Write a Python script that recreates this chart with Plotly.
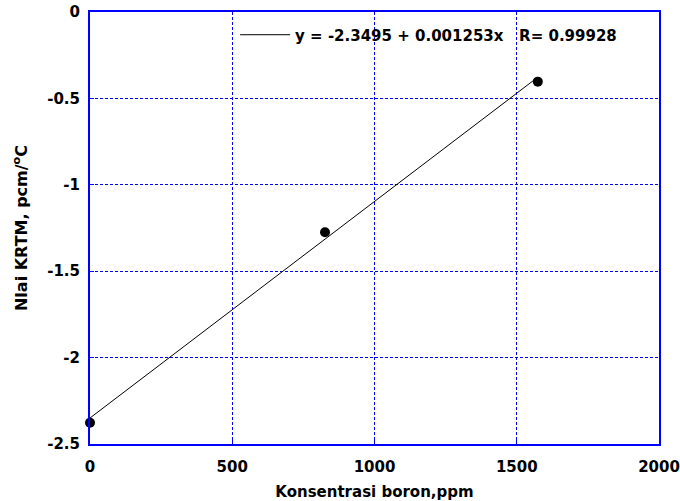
import plotly.graph_objects as go

boron_ppm = [0, 826, 1574]
krtm = [-2.377, -1.275, -0.403]
intercept = -2.3495
slope = 0.001253
fit_x = [0, 1574]
fit_y = [intercept + slope * v for v in fit_x]
x_ticks = [0, 500, 1000, 1500, 2000]
y_ticks = [0, -0.5, -1, -1.5, -2, -2.5]
y_tick_text = ["0", "-0.5", "-1", "-1.5", "-2", "-2.5"]

FONT = "DejaVu Sans, Liberation Sans, Arial"
font_b = dict(family=FONT, size=15, color="black")

fig = go.Figure()
fig.add_trace(go.Scatter(x=fit_x, y=fit_y, mode="lines",
                         line=dict(color="black", width=1),
                         name="<b>y = -2.3495 + 0.001253x   R= 0.99928</b>"))
fig.add_trace(go.Scatter(x=boron_ppm, y=krtm, mode="markers",
                         marker=dict(color="black", size=10, symbol="circle"),
                         showlegend=False, cliponaxis=False))

axis_common = dict(showgrid=True, gridcolor="#0000ff", griddash="3px,2px", gridwidth=1,
                   showline=True, linecolor="#0000ff", linewidth=2, mirror=True,
                   zeroline=False, ticks="inside", tickcolor="#0000ff", ticklen=4,
                   automargin=False, ticklabeloverflow="allow",
                   tickfont=dict(family=FONT, size=15, color="black"))

fig.update_xaxes(range=[0, 2000], tickvals=x_ticks, ticktext=[f"<b>{v}</b>" for v in x_ticks],
                 ticklabelstandoff=8,
                 title=dict(text="<b>Konsentrasi boron,ppm</b>", font=dict(family=FONT, size=15, color="black"), standoff=25),
                 **axis_common)
fig.update_yaxes(range=[-2.5, 0], tickvals=y_ticks, ticktext=[f"<b>{t}</b>" for t in y_tick_text],
                 ticklabelstandoff=5,
                 title=dict(text="<b>Nlai KRTM, pcm/<sup>o</sup>C</b>", font=dict(family=FONT, size=16, color="black"), standoff=16),
                 **axis_common)

fig.update_layout(width=680, height=501, plot_bgcolor="white", paper_bgcolor="white",
                  margin=dict(l=90, r=21, t=12, b=57),
                  legend=dict(x=0.255, y=0.985, xanchor="left", yanchor="top",
                              bgcolor="rgba(255,255,255,0)", borderwidth=0,
                              font=font_b, itemwidth=50),
                  showlegend=True)

# remove the page's default body margin so the 680x501 figure fills the window exactly
fig.write_html("out.html", config={"displayModeBar": False},
               post_script="document.body.style.margin='0px';")
